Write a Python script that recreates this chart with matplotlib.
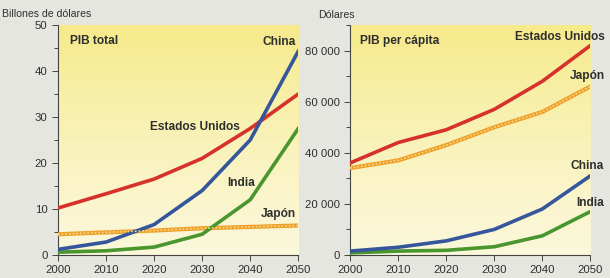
import matplotlib.pyplot as plt
import numpy as np
from matplotlib.colors import LinearSegmentedColormap
from matplotlib.ticker import MultipleLocator, FuncFormatter

plt.rcParams['font.family'] = ['Liberation Sans', 'DejaVu Sans']

# Data
years = [2000, 2010, 2020, 2030, 2040, 2050]

# PIB total, billones de dolares
pib_us = [10.2, 13.3, 16.5, 21.0, 27.5, 35.0]
pib_china = [1.2, 2.8, 6.6, 14.0, 25.0, 44.3]
pib_india = [0.6, 0.9, 1.7, 4.5, 12.0, 27.5]
pib_japon = [4.5, 4.9, 5.3, 5.8, 6.1, 6.4]

# PIB per capita, dolares
pc_us = [36000, 44000, 49000, 57000, 68000, 82000]
pc_japon = [34000, 37000, 43000, 50000, 56000, 66000]
pc_china = [1500, 3000, 5500, 10000, 18000, 31000]
pc_india = [800, 1500, 1800, 3200, 7500, 17000]

RED = '#d6312b'
BLUE = '#35569a'
GREEN = '#4a962e'
ORANGE = '#eea02a'
TXT = '#2e2e2e'
BG = '#e6e6e1'

bg_cmap = LinearSegmentedColormap.from_list(
    'bg', ['#fbf8dc', '#faf4c6', '#f8f0aa', '#f6ea8a'])


def yellow_panel(ax):
    grad = np.linspace(0, 1, 256).reshape(-1, 1)
    ax.imshow(grad, cmap=bg_cmap, aspect='auto', origin='lower',
              extent=[0, 1, 0, 1], transform=ax.transAxes, zorder=0)
    ax.set_facecolor('none')
    for s in ['top', 'right']:
        ax.spines[s].set_visible(False)
    for s in ['left', 'bottom']:
        ax.spines[s].set_color('#444444')
        ax.spines[s].set_linewidth(0.8)
    ax.tick_params(which='both', colors='#444444', labelcolor=TXT,
                   labelsize=8.2, direction='out', width=0.7)
    ax.tick_params(which='major', length=4)
    ax.tick_params(which='minor', length=3)
    ax.set_xlim(2000, 2050)
    ax.xaxis.set_major_locator(MultipleLocator(10))


def japon_line(ax, x, y):
    ax.plot(x, y, color=ORANGE, lw=3, solid_capstyle='butt', zorder=3)
    ax.plot(x, y, color='#fbd98a', lw=1.2, linestyle=(0, (1, 1.2)), zorder=4)


fig = plt.figure(figsize=(6.1, 2.78), dpi=100)
fig.patch.set_facecolor(BG)

# Left panel: PIB total
ax1 = fig.add_axes([0.095, 0.083, 0.394, 0.827])
yellow_panel(ax1)
ax1.set_ylim(0, 50)
ax1.yaxis.set_major_locator(MultipleLocator(10))
ax1.yaxis.set_minor_locator(MultipleLocator(5))
ax1.plot(years, pib_us, color=RED, lw=2.6, zorder=3)
japon_line(ax1, years, pib_japon)
ax1.plot(years, pib_india, color=GREEN, lw=2.6, zorder=3)
ax1.plot(years, pib_china, color=BLUE, lw=2.6, zorder=3)

bold = dict(fontsize=8.6, fontweight='bold', color=TXT, clip_on=False)
ax1.text(0.05, 0.955, 'PIB total', transform=ax1.transAxes, va='top', **bold)
ax1.text(2049.4, 46.3, 'China', ha='right', va='center', **bold)
ax1.text(2037.9, 27.8, 'Estados Unidos', ha='right', va='center', **bold)
ax1.text(2041.0, 15.6, 'India', ha='right', va='center', **bold)
ax1.text(2049.6, 8.9, 'Japón', ha='right', va='center', **bold)
fig.text(0.004, 0.95, 'Billones de dólares', fontsize=7.6, color=TXT,
         va='center')

# Right panel: PIB per capita
ax2 = fig.add_axes([0.574, 0.083, 0.394, 0.827])
yellow_panel(ax2)
ax2.set_ylim(0, 90000)
ax2.yaxis.set_major_locator(MultipleLocator(20000))
ax2.yaxis.set_minor_locator(MultipleLocator(10000))
ax2.yaxis.set_major_formatter(
    FuncFormatter(lambda v, p: f'{int(v):,}'.replace(',', ' ')))
ax2.plot(years, pc_us, color=RED, lw=2.6, zorder=3)
japon_line(ax2, years, pc_japon)
ax2.plot(years, pc_india, color=GREEN, lw=2.6, zorder=3)
ax2.plot(years, pc_china, color=BLUE, lw=2.6, zorder=3)

ax2.text(0.04, 0.955, 'PIB per cápita', transform=ax2.transAxes, va='top',
         **bold)
ax2.text(2053.0, 85300, 'Estados Unidos', ha='right', va='center', **bold)
ax2.text(2053.0, 70000, 'Japón', ha='right', va='center', **bold)
ax2.text(2052.8, 34800, 'China', ha='right', va='center', **bold)
ax2.text(2052.8, 20300, 'India', ha='right', va='center', **bold)
fig.text(0.521, 0.945, 'Dólares', fontsize=7.6, color=TXT, va='center')

fig.savefig('out.png', dpi=100, facecolor=BG)
